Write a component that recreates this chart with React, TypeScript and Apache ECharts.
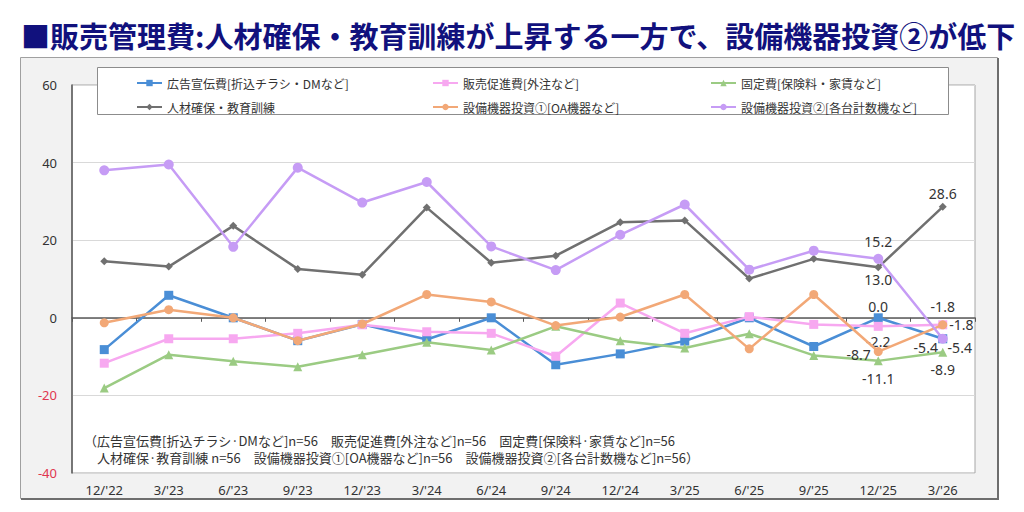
import React, { useEffect, useRef } from "react";
import * as echarts from "echarts";

const categories = ["12/'22", "3/'23", "6/'23", "9/'23", "12/'23", "3/'24", "6/'24", "9/'24", "12/'24", "3/'25", "6/'25", "9/'25", "12/'25", "3/'26"];

const seriesNames = [
  "広告宣伝費[折込チラシ・DMなど]",
  "販売促進費[外注など]",
  "固定費[保険料・家賃など]",
  "人材確保・教育訓練",
  "設備機器投資①[OA機器など]",
  "設備機器投資②[各台計数機など]",
];

const advertising = [-8.2, 5.8, 0.0, -5.9, -1.7, -5.6, 0.0, -12.1, -9.3, -6.0, 0.0, -7.4, 0.0, -5.4];
const salesPromotion = [-11.7, -5.4, -5.4, -4.0, -1.8, -3.6, -4.0, -9.9, 3.8, -4.0, 0.3, -1.7, -2.2, -1.8];
const fixedCost = [-18.1, -9.5, -11.2, -12.6, -9.5, -6.3, -8.3, -2.2, -5.9, -7.8, -4.1, -9.7, -11.1, -8.9];
const staffTraining = [14.6, 13.2, 23.7, 12.6, 11.1, 28.4, 14.2, 16.0, 24.6, 25.1, 10.1, 15.2, 13.0, 28.6];
const equipmentOA = [-1.3, 2.1, 0.0, -5.9, -1.6, 6.0, 4.1, -2.0, 0.2, 6.0, -8.0, 6.0, -8.7, -1.8];
const equipmentCounter = [38.0, 39.5, 18.3, 38.7, 29.7, 35.0, 18.4, 12.3, 21.4, 29.2, 12.4, 17.3, 15.2, -5.4];

const yTicks = { min: -40, max: 60, interval: 20 };

const footnoteLine1 = "（広告宣伝費[折込チラシ·DMなど]n=56　販売促進費[外注など]n=56　固定費[保険料·家賃など]n=56";
const footnoteLine2 = "人材確保·教育訓練 n=56　設備機器投資①[OA機器など]n=56　設備機器投資②[各台計数機など]n=56）";

const titleText = "■販売管理費:人材確保・教育訓練が上昇する一方で、設備機器投資②が低下";

const JP = "'Noto Sans CJK JP', 'Noto Sans', sans-serif";

type LabelSpec = { position: any; distance?: number; offset?: number[] };

const seriesStyles = [
  { color: "#4a8ed6", symbol: "rect", size: 9, labels: [{ position: "top", distance: 0 }, { position: "inside", offset: [-17, 9] }] },
  { color: "#f7a8f0", symbol: "rect", size: 9, labels: [{ position: "bottom", distance: 4 }, { position: "top", distance: 7 }] },
  { color: "#9bcb83", symbol: "triangle", size: 9, labels: [{ position: "bottom", distance: 6 }, { position: "bottom", distance: 6 }] },
  { color: "#707070", symbol: "diamond", size: 8, labels: [{ position: "bottom", distance: 1 }, { position: "top", distance: 2 }] },
  { color: "#f2a877", symbol: "circle", size: 9, labels: [{ position: "left", distance: 3, offset: [0, 3] }, { position: "right", distance: 2 }] },
  { color: "#c69cf5", symbol: "circle", size: 10, labels: [{ position: "top", distance: 5 }, { position: "inside", offset: [17, 9] }] },
];

const seriesValues = [advertising, salesPromotion, fixedCost, staffTraining, equipmentOA, equipmentCounter];

export default function App() {
  const ref = useRef<HTMLDivElement>(null);

  useEffect(() => {
    if (!ref.current) return;
    const chart = echarts.init(ref.current, undefined, { renderer: "svg" });

    const series = seriesValues.map((vals, si) => {
      const st = seriesStyles[si];
      const n = vals.length;
      return {
        name: seriesNames[si],
        type: "line",
        xAxisIndex: 0,
        yAxisIndex: 0,
        symbol: st.symbol,
        symbolSize: st.size,
        showAllSymbol: true,
        lineStyle: { color: st.color, width: 2.5 },
        itemStyle: { color: st.color },
        z: 2 + si,
        data: vals.map((v, i) => {
          const li = i - (n - 2);
          if (li >= 0) {
            const l: LabelSpec = st.labels[li] as LabelSpec;
            return {
              value: v,
              label: {
                show: true,
                position: l.position,
                distance: l.distance ?? 5,
                offset: l.offset,
                formatter: (p: any) => Number(p.value).toFixed(1),
                fontSize: 14,
                color: "#333",
                fontFamily: "'Noto Sans', sans-serif",
              },
            };
          }
          return v;
        }),
      };
    });

    const legendPositions = [
      { left: 131, top: 72 },
      { left: 427, top: 72 },
      { left: 705, top: 72 },
      { left: 131, top: 96 },
      { left: 427, top: 96 },
      { left: 705, top: 96 },
    ];

    const option: any = {
      animation: false,
      backgroundColor: "#fff",
      title: {
        text: titleText,
        left: 16,
        top: 15,
        textStyle: { fontSize: 29, fontWeight: "bold", color: "#11117d", fontFamily: JP },
      },
      legend: seriesNames.map((name, i) => ({
        data: [name],
        left: legendPositions[i].left,
        top: legendPositions[i].top,
        itemWidth: 25,
        itemHeight: 8,
        selectedMode: false,
        textStyle: { fontSize: 12, color: "#333", fontFamily: JP },
        z: 10,
      })),
      grid: {
        left: 72,
        right: 49,
        top: 85,
        bottom: 39,
        show: true,
        backgroundColor: "#fff",
        borderColor: "#a6a6a6",
        borderWidth: 1,
      },
      xAxis: [
        {
          type: "category",
          data: categories,
          boundaryGap: true,
          axisLine: { show: false, onZero: false },
          axisTick: { show: false },
          axisLabel: { fontSize: 13, color: "#333", margin: 10, fontFamily: "'Noto Sans', sans-serif" },
          splitLine: { show: false },
        },
        {
          type: "category",
          data: categories,
          boundaryGap: true,
          position: "bottom",
          axisLine: { show: true, onZero: true, lineStyle: { color: "#595959", width: 1.5 } },
          axisTick: { show: true, length: 4, lineStyle: { color: "#595959" } },
          axisLabel: { show: false },
          splitLine: { show: false },
        },
      ],
      yAxis: {
        type: "value",
        min: yTicks.min,
        max: yTicks.max,
        interval: yTicks.interval,
        axisLine: { show: true, lineStyle: { color: "#595959", width: 1.5 } },
        axisTick: { show: false },
        axisLabel: {
          fontSize: 13,
          margin: 15,
          fontFamily: "'Noto Sans', sans-serif",
          color: (v: any) => (Number(v) < 0 ? "#e0364f" : "#333"),
        },
        splitLine: { show: true, lineStyle: { color: "#d9d9d9", width: 1 } },
      },
      graphic: [
        {
          type: "rect",
          z: -10,
          silent: true,
          shape: { x: 20.5, y: 57.5, width: 977, height: 441 },
          style: { fill: "#f2f2f2", stroke: "#a0a0a0", lineWidth: 1 },
        },
        {
          type: "polyline",
          z: -9,
          silent: true,
          shape: { points: [[998, 58], [998, 499], [21, 499]] },
          style: { stroke: "#6e6e6e", lineWidth: 2, fill: null },
        },
        {
          type: "rect",
          z: 5,
          silent: true,
          shape: { x: 97.5, y: 67.5, width: 851, height: 47 },
          style: { fill: "#fff", stroke: "#8c8c8c", lineWidth: 1 },
        },
        {
          type: "text",
          z: 5,
          silent: true,
          x: 84,
          y: 440,
          style: { text: footnoteLine1, fontSize: 13, fill: "#333", fontFamily: JP, verticalAlign: "middle" },
        },
        {
          type: "text",
          z: 5,
          silent: true,
          x: 97,
          y: 457,
          style: { text: footnoteLine2, fontSize: 13, fill: "#333", fontFamily: JP, verticalAlign: "middle" },
        },
      ],
      series,
    };

    chart.setOption(option);
    return () => chart.dispose();
  }, []);

  return (
    <div
      ref={ref}
      style={{ position: "fixed", left: 0, top: 0, width: 1024, height: 512, background: "#fff" }}
    />
  );
}
